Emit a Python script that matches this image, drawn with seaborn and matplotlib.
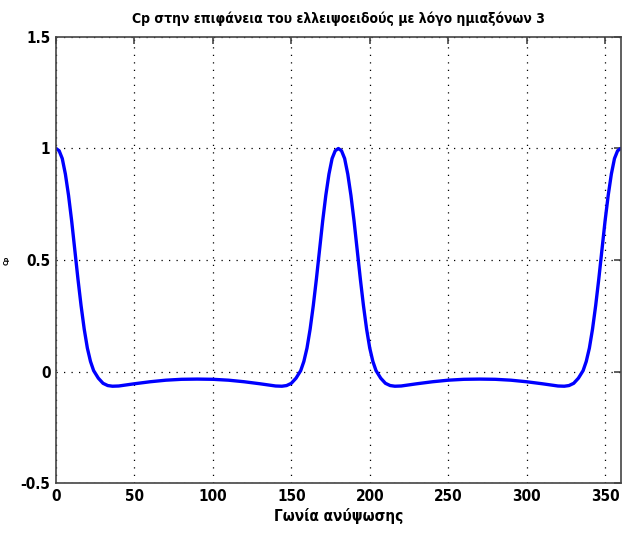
import numpy as np
import pandas as pd
import matplotlib
matplotlib.use("Agg")
import matplotlib.pyplot as plt
import seaborn as sns

# angle (degrees) and pressure coefficient
angle = [0, 2, 4, 6, 8, 10, 12, 14, 16, 18, 20, 22, 24, 27, 30, 33, 36, 40, 45, 50, 60, 70, 80,
         90, 100, 110, 120, 130, 135, 140, 144, 147, 150, 153, 156, 158, 160, 162, 164, 166, 168,
         170, 172, 174, 176, 178,
         180, 182, 184, 186, 188, 190, 192, 194, 196, 198, 200, 202, 204, 207, 210, 213, 216, 220,
         225, 230, 240, 250, 260,
         270, 280, 290, 300, 310, 315, 320, 324, 327, 330, 333, 336, 338, 340, 342, 344, 346, 348,
         350, 352, 354, 356, 358, 360]
cp = [1.000, 0.990, 0.955, 0.885, 0.790, 0.675, 0.545, 0.415, 0.295, 0.190, 0.105, 0.045, 0.004,
      -0.030, -0.053, -0.063, -0.066, -0.065, -0.060, -0.055, -0.046, -0.039, -0.035,
      -0.034, -0.035, -0.039, -0.046, -0.055, -0.060, -0.065, -0.066, -0.063, -0.053, -0.030,
      0.004, 0.045, 0.105, 0.190, 0.295, 0.415, 0.545, 0.675, 0.790, 0.885, 0.955, 0.990,
      1.000, 0.990, 0.955, 0.885, 0.790, 0.675, 0.545, 0.415, 0.295, 0.190, 0.105, 0.045, 0.004,
      -0.030, -0.053, -0.063, -0.066, -0.065, -0.060, -0.055, -0.046, -0.039, -0.035,
      -0.034, -0.035, -0.039, -0.046, -0.055, -0.060, -0.065, -0.066, -0.063, -0.053, -0.030,
      0.004, 0.045, 0.105, 0.190, 0.295, 0.415, 0.545, 0.675, 0.790, 0.885, 0.955, 0.990, 1.000]

xticks = [0, 50, 100, 150, 200, 250, 300, 350]
yticks = [-0.5, 0, 0.5, 1, 1.5]
ytick_labels = ["-0.5", "0", "0.5", "1", "1.5"]
title = "Cp στην επιφάνεια του ελλειψοειδούς με λόγο ημιαξόνων 3"
xlabel = "Γωνία ανύψωσης"
ylabel = "Cp"

sns.set_theme(style="white")
plt.rcParams["font.family"] = ["DejaVu Sans"]
plt.rcParams["font.stretch"] = "condensed"
plt.rcParams["font.weight"] = "bold"
plt.rcParams["text.color"] = "black"
plt.rcParams["axes.labelcolor"] = "black"
plt.rcParams["xtick.color"] = "black"
plt.rcParams["ytick.color"] = "black"

df = pd.DataFrame({"angle": angle, "cp": cp})

fig = plt.figure(figsize=(6.22, 5.33), dpi=100)
ax = fig.add_axes([0.090, 0.0938, 0.908, 0.8368])
sns.lineplot(data=df, x="angle", y="cp", ax=ax, color="#0000ff", linewidth=2.4,
             sort=False, estimator=None)

ax.set_xlim(0, 360)
ax.set_ylim(-0.5, 1.5)
ax.set_xticks(xticks)
ax.set_xticklabels([str(t) for t in xticks])
ax.set_yticks(yticks)
ax.set_yticklabels(ytick_labels)
ax.grid(True, color="black", linestyle=(0, (1, 5)), linewidth=0.9)
for s in ax.spines.values():
    s.set_visible(True)
    s.set_color("#444444")
    s.set_linewidth(1.2)
ax.tick_params(direction="in", length=5, width=1.2, color="#444444",
               labelcolor="black", top=True, right=True, labelsize=11, pad=4)
for lab in ax.get_xticklabels() + ax.get_yticklabels():
    lab.set_fontweight("bold")
    lab.set_fontstretch("condensed")
ax.set_title(title, fontsize=10, fontweight="bold", pad=10, fontstretch="condensed")
ax.set_xlabel(xlabel, fontsize=11, fontweight="bold", labelpad=3, fontstretch="condensed")
ax.set_ylabel(ylabel, fontsize=5, fontweight="bold", labelpad=10)
ax.yaxis.set_label_coords(-0.082, 0.5)

fig.savefig("out.png", dpi=100)
